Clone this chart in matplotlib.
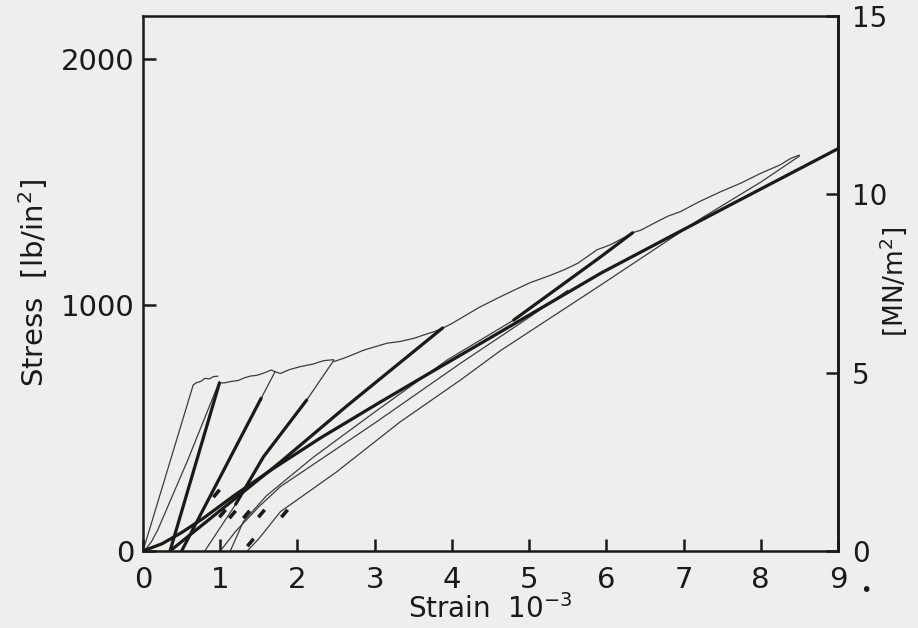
import matplotlib
matplotlib.use("Agg")
import matplotlib.pyplot as plt

# ---------------- data (strain in 1e-3, stress in lb/in^2) ----------------
PSI_PER_MN_M2 = 145.038

x_ticks = [0, 1, 2, 3, 4, 5, 6, 7, 8, 9]
x_tick_labels = ["0", "1", "2", "3", "4", "5", "6", "7", "8", "9"]
y_ticks = [0, 1000, 2000]
y_tick_labels = ["0", "1000", "2000"]
y2_ticks = [0, 5, 10, 15]
y2_tick_labels = ["0", "5", "10", "15"]

# final monotonic loading curve (thick)
envelope_x = [0, 0.25, 0.5, 0.78, 1.2, 1.69, 2.3, 3.08, 3.72, 4.65, 5.93, 7.5, 9.0]
envelope_y = [0, 30, 75, 133, 230, 336, 460, 607, 725, 895, 1130, 1390, 1636]

# first loading up to first peak (thin)
load1_x = [0, 0.65, 0.69, 0.75, 0.80, 0.86, 0.91, 0.97]
load1_y = [0, 675, 684, 690, 702, 700, 709, 711]
# first unloading (thin)
unload1_x = [0.99, 0.58, 0.19, 0.11, 0.04, 0.0]
unload1_y = [690, 370, 85, 38, 10, 0]
# straight line from residual strain to first peak (thick)
line1_x = [0.35, 0.99]
line1_y = [0, 683]

# upper (cracking) branches of the successive loops (thin, wavy)
upper2_x = [0.99, 1.06, 1.15, 1.23, 1.32, 1.40, 1.47, 1.53, 1.60, 1.66, 1.71]
upper2_y = [683, 684, 690, 693, 705, 712, 714, 720, 728, 736, 729]
upper3_x = [1.71, 1.78, 1.90, 2.04, 2.20, 2.34, 2.47]
upper3_y = [729, 722, 738, 750, 760, 774, 778]
upper4_x = [2.47, 2.60, 2.73, 2.86, 3.00, 3.16, 3.33, 3.51, 3.65, 3.77, 3.88]
upper4_y = [770, 784, 800, 817, 830, 845, 852, 865, 880, 892, 906]
upper5_x = [3.88, 4.00, 4.15, 4.35, 4.59, 4.80, 5.02, 5.25, 5.45, 5.63, 5.88, 6.05, 6.19, 6.34]
upper5_y = [906, 925, 953, 990, 1028, 1060, 1092, 1118, 1143, 1170, 1225, 1245, 1268, 1294]
upper6_x = [6.34, 6.45, 6.60, 6.80, 6.96, 7.20, 7.48, 7.75, 8.00, 8.25, 8.39, 8.50]
upper6_y = [1294, 1305, 1330, 1362, 1380, 1420, 1461, 1497, 1536, 1570, 1597, 1610]

# unloading / reloading lines of the loops
line2_x = [0.50, 1.53, 1.71]
line2_y = [0, 621, 729]
line3_x = [0.80, 1.20, 1.56, 2.12, 2.47]
line3_y = [0, 190, 383, 614, 775]
line4_x = [0.35, 1.78, 2.64, 3.88]
line4_y = [0, 362, 590, 907]
line5_x = [6.34, 5.93, 4.80, 3.94, 3.00, 2.20, 1.60, 1.30, 1.13]
line5_y = [1294, 1197, 939, 777, 565, 380, 225, 120, 0]
mid_x = [1.00, 1.20, 1.50, 1.78, 3.00, 4.11, 5.00, 5.50]
mid_y = [0, 80, 180, 262, 520, 763, 950, 1060]
line6_x = [1.35, 1.50, 1.78, 2.50, 3.33, 4.11, 4.63, 5.93, 7.23, 8.00, 8.50]
line6_y = [0, 50, 160, 320, 525, 695, 815, 1082, 1353, 1500, 1606]

# short dash marks on the lines near the foot of the loops
dash_x = [0.95, 1.02, 1.15, 1.34, 1.53, 1.83, 1.38]
dash_y = [235, 153, 150, 150, 153, 153, 38]

# ---------------- styling ----------------
BG = "#eeeeec"
INK = "#1a1a1a"
THIN = "#3c3c3c"
plt.rcParams["font.family"] = ["DejaVu Sans"]
plt.rcParams["mathtext.fontset"] = "dejavusans"

fig = plt.figure(figsize=(9.18, 6.28), dpi=100)
fig.patch.set_facecolor(BG)
ax = fig.add_axes([143 / 918, 77 / 628, 695 / 918, 535 / 628])
ax.set_facecolor(BG)
ax.set_xlim(0, 9)
ax.set_ylim(0, 15 * PSI_PER_MN_M2)

thin_kw = dict(color=THIN, lw=0.9, solid_capstyle="round", solid_joinstyle="round")
thick_kw = dict(color=INK, lw=2.3, solid_capstyle="round", solid_joinstyle="round")

for xs, ys in [(load1_x, load1_y), (unload1_x, unload1_y), (upper2_x, upper2_y),
               (upper3_x, upper3_y), (upper4_x, upper4_y), (upper5_x, upper5_y),
               (upper6_x, upper6_y), (line2_x, line2_y), (line3_x, line3_y),
               (line5_x, line5_y), (mid_x, mid_y), (line6_x, line6_y)]:
    ax.plot(xs, ys, **thin_kw)

ax.plot(envelope_x, envelope_y, **thick_kw)
ax.plot(line1_x, line1_y, **thick_kw)
ax.plot(line4_x, line4_y, **thick_kw)
# thicker middle portions where loading and unloading traces coincide
ax.plot(line2_x[:2], line2_y[:2], **thick_kw)
ax.plot(line3_x[1:4], line3_y[1:4], **thick_kw)
ax.plot(line5_x[:3], line5_y[:3], **thick_kw)

ax.plot(dash_x, dash_y, linestyle="none", marker=(2, 0, -40), markersize=7,
        markeredgewidth=2.6, color=INK)

# axes frame / ticks
for s in ax.spines.values():
    s.set_linewidth(1.8)
    s.set_color(INK)
ax.set_xticks(x_ticks)
ax.set_xticklabels(x_tick_labels)
ax.set_yticks(y_ticks)
ax.set_yticklabels(y_tick_labels)
ax.tick_params(direction="in", length=9, width=1.8, colors=INK, labelsize=21,
               pad=6)
ax.tick_params(axis="x", pad=11)

sec = ax.secondary_yaxis("right", functions=(lambda p: p / PSI_PER_MN_M2,
                                             lambda m: m * PSI_PER_MN_M2))
sec.set_yticks(y2_ticks)
sec.set_yticklabels(y2_tick_labels)
sec.tick_params(direction="in", length=9, width=1.8, colors=INK, labelsize=20,
                pad=10)
sec.spines["right"].set_linewidth(1.8)

ax.set_xlabel("Strain  10$^{-3}$", fontsize=20, color=INK, labelpad=0)
ax.set_ylabel("Stress  [lb/in$^2$]", fontsize=21, color=INK, labelpad=8)
fig.text(893 / 918, 1 - 282 / 628, "[MN/m$^2$]", fontsize=19, color=INK,
         rotation=90, ha="center", va="center")

fig.text(866 / 918, 1 - 590 / 628, "•", fontsize=14, color=INK,
         ha="center", va="center")

fig.savefig("out.png", dpi=100, facecolor=BG)
